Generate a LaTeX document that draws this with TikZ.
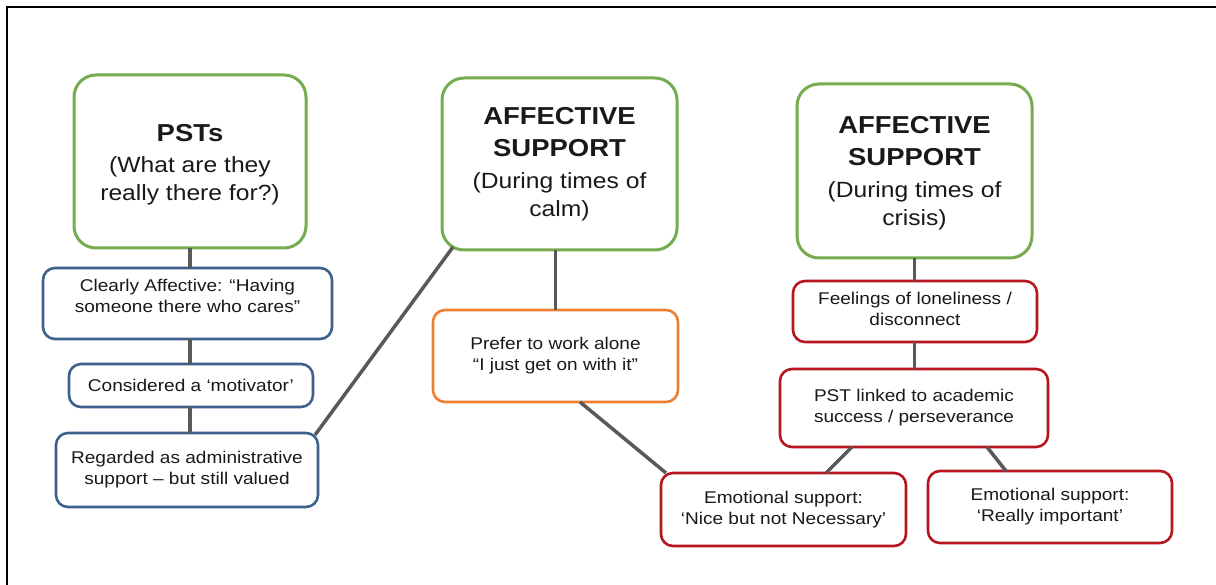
\documentclass[tikz,border=0pt]{standalone}
\usepackage{fontspec}
\setmainfont{Liberation Sans}[FakeStretch=1.12]
\definecolor{hgreen}{RGB}{119,171,80}
\definecolor{hblue}{RGB}{62,96,140}
\definecolor{horange}{RGB}{237,125,49}
\definecolor{hred}{RGB}{182,22,32}
\definecolor{linkgray}{RGB}{89,89,89}
\newcommand{\hdfont}{\fontsize{24.5}{28}\selectfont\bfseries}
\newcommand{\subfont}{\fontsize{22}{28}\selectfont}
\begin{document}
\begin{tikzpicture}[x=1pt,y=-1pt,
  every node/.style={inner sep=0pt, outer sep=0pt},
  box/.style={draw, fill=white, rectangle, rounded corners=12pt, line width=2.6pt,
    align=center, text=black!90, font=\fontsize{17}{21}\selectfont},
  headbox/.style={box, draw=hgreen, rounded corners=22pt, line width=3pt,
    font=\fontsize{22}{28}\selectfont},
  bluebox/.style={box, draw=hblue},
  orangebox/.style={box, draw=horange},
  redbox/.style={box, draw=hred},
  link/.style={draw=linkgray, line width=3.5pt}
]
% page and frame
\fill[white] (0,0) rectangle (1216,585);
\useasboundingbox (0,0) rectangle (1216,585);
\draw[line width=2.2pt] (7.2,585) -- (7.2,7.2) -- (1216,7.2);

% headings (a strut on the first line lowers the text a little)
\node[headbox, minimum width=232pt, minimum height=173pt] (pst) at (190,161.5)
  {\hdfont\rule{0pt}{24pt}PSTs\\[3pt] \subfont (What are they\\ \subfont really there for?)};
\node[headbox, minimum width=235pt, minimum height=172pt] (calm) at (559.5,164)
  {\hdfont AFFECTIVE\\[4pt] \hdfont SUPPORT\\[4pt] \subfont (During times of\\ \subfont calm)};
\node[headbox, minimum width=235pt, minimum height=174pt] (crisis) at (914.5,171)
  {\hdfont\rule{0pt}{22.5pt}AFFECTIVE\\[4pt] \hdfont SUPPORT\\[4pt] \subfont (During times of\\ \subfont crisis)};

% left column
\node[bluebox, minimum width=289pt, minimum height=71pt, text depth=16pt] (clearly) at (187.5,303.5)
  {Clearly Affective: “Having\\ someone there who cares”};
\node[bluebox, minimum width=244pt, minimum height=43pt] (motiv) at (191,385.5)
  {Considered a ‘motivator’};
\node[bluebox, minimum width=262pt, minimum height=74pt] (admin) at (187,470)
  {Regarded as administrative\\ support – but still valued};

% middle column
\node[orangebox, minimum width=245pt, minimum height=92pt] (alone) at (555.5,356)
  {Prefer to work alone\\ “I just get on with it”};

% right column
\node[redbox, minimum width=244pt, minimum height=61pt, text depth=6pt] (lonely) at (915,311.5)
  {Feelings of loneliness /\\ disconnect};
\node[redbox, minimum width=268pt, minimum height=78pt] (linked) at (914,408)
  {PST linked to academic\\ success / perseverance};
\node[redbox, minimum width=245pt, minimum height=73pt] (nice) at (783.5,509.5)
  {Emotional support:\\ ‘Nice but not Necessary’};
\node[redbox, minimum width=244pt, minimum height=72pt] (vital) at (1050,507)
  {Emotional support:\\ ‘Really important’};

% connectors
\path[link] (pst.south) -- (pst.south |- clearly.north);
\path[link] (clearly.south -| pst.south) -- (motiv.north -| pst.south);
\path[link] (motiv.south -| pst.south) -- (admin.north -| pst.south);
\path[link] ([xshift=-3pt,yshift=-2pt]admin.north east) -- ([xshift=11pt,yshift=3pt]calm.south west);
\path[link] (alone.north) -- (alone.north |- calm.south);
\path[link] ([xshift=24.5pt]alone.south) -- ([xshift=5pt]nice.north west);
\path[link] (crisis.south) -- (crisis.south |- lonely.north);
\path[link] (lonely.south -| crisis.south) -- (linked.north -| crisis.south);
\path[link] ([xshift=-62pt]linked.south) -- ([xshift=42.5pt]nice.north);
\path[link] ([xshift=73pt]linked.south) -- ([xshift=-44pt]vital.north);
\end{tikzpicture}
\end{document}
